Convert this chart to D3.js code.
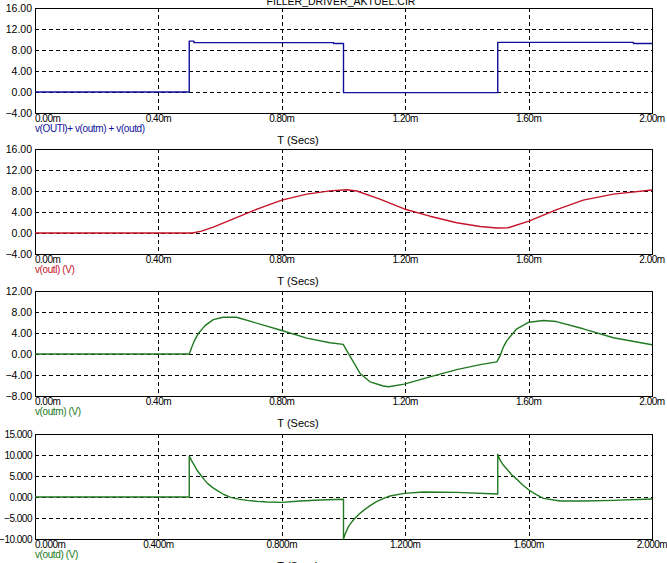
<!DOCTYPE html>
<html>
<head>
<meta charset="utf-8">
<script src="https://cdn.jsdelivr.net/npm/d3@7"></script>
<style>
  html, body { margin: 0; padding: 0; background: #ffffff; }
  svg { display: block; }
  text { font-family: "Liberation Sans", Arial, sans-serif; }
</style>
</head>
<body>
<div id="chart"></div>
<script>
// ---------- data ----------
const chartTitle = "FILLER_DRIVER_AKTUEL.CIR";
const xAxisTitle = "T (Secs)";
const timeTicks = [0, 0.4, 0.8, 1.2, 1.6, 2.0];

// Panel 1: v(OUTl)+ v(outm) + v(outd)
const tSum = [0, 0.5, 0.5, 0.515, 0.515, 0.968, 0.968, 1.0, 1.0, 1.5, 1.5, 1.94, 1.94, 2.0];
const vSum = [0, 0, 9.7, 9.7, 9.4, 9.4, 9.25, 9.25, -0.12, -0.12, 9.45, 9.45, 9.25, 9.25];
const ticksSum = [-4, 0, 4, 8, 12, 16];

// Panel 2: v(outl)
const tOutl = [0, 0.51, 0.54, 0.578, 0.643, 0.708, 0.80, 0.881, 0.956, 1.01, 1.043, 1.118, 1.197, 1.28, 1.367, 1.443, 1.497, 1.534, 1.601, 1.691, 1.777, 1.875, 2.0];
const vOutl = [0, 0, 0.35, 1.13, 2.7, 4.27, 6.27, 7.4, 8.03, 8.25, 8.0, 6.46, 4.58, 3.2, 1.95, 1.25, 0.94, 1.0, 2.26, 4.45, 6.27, 7.4, 8.2];
const ticksOutl = [-4, 0, 4, 8, 12, 16];

// Panel 3: v(outm)
const tOutm = [0, 0.5, 0.504, 0.508, 0.518, 0.529, 0.551, 0.578, 0.610, 0.653, 0.708, 0.80, 0.881, 0.956, 0.999, 1.010, 1.032, 1.054, 1.086, 1.129, 1.146, 1.197, 1.28, 1.367, 1.443, 1.497, 1.508, 1.518, 1.530, 1.562, 1.601, 1.648, 1.69, 1.777, 1.875, 2.0];
const vOutm = [0, 0, 0.6, 1.3, 2.7, 3.85, 5.4, 6.56, 7.0, 7.0, 6.06, 4.48, 3.03, 2.14, 1.83, 0.69, -1.5, -3.72, -5.3, -6.1, -6.25, -5.74, -4.35, -2.97, -2.02, -1.5, -0.25, 1.3, 2.6, 4.8, 6.06, 6.37, 6.18, 4.8, 3.1, 1.77];
const ticksOutm = [-8, -4, 0, 4, 8, 12];

// Panel 4: v(outd)
const tOutd = [0, 0.5, 0.5, 0.508, 0.516, 0.526, 0.537, 0.548, 0.559, 0.575, 0.591, 0.612, 0.634, 0.66, 0.688, 0.72, 0.753, 0.80, 0.859, 0.924, 1.0, 1.0, 1.006, 1.016, 1.026, 1.037, 1.05, 1.064, 1.085, 1.107, 1.13, 1.151, 1.197, 1.258, 1.367, 1.5, 1.5, 1.508, 1.518, 1.530, 1.545, 1.562, 1.58, 1.601, 1.625, 1.648, 1.702, 1.777, 1.875, 2.0];
const vOutd = [0, 0, 9.76, 8.6, 7.6, 6.3, 5.24, 4.2, 3.25, 2.3, 1.5, 0.6, -0.08, -0.5, -0.8, -1.05, -1.2, -1.27, -0.95, -0.7, -0.55, -10, -8.7, -7.06, -6.0, -5.08, -4.1, -3.25, -2.1, -1.1, -0.35, 0.24, 0.87, 1.19, 1.1, 0.71, 10.2, 8.7, 7.6, 6.6, 5.3, 4.2, 2.9, 1.67, 0.55, -0.32, -0.95, -0.95, -0.8, -0.48];
const ticksOutd = [-10, -5, 0, 5, 10, 15];

const legendLabels = ["v(OUTl)+ v(outm) + v(outd)", "v(outl) (V)", "v(outm) (V)", "v(outd) (V)"];
const seriesColors = ["#10109c", "#c41428", "#217a21", "#217a21"];
const yDecimals = [2, 2, 2, 3];
const xDecimals = [2, 2, 2, 3];

// ---------- layout ----------
const W = 667, H = 563;
const plotLeft = 35, plotRight = 652;
const panelTops = [8, 149, 291, 434];
const panelH = 105;

const svg = d3.select("#chart").append("svg")
  .attr("width", W).attr("height", H);

const x = d3.scaleLinear().domain([0, 2]).range([plotLeft, plotRight]);

const panels = [
  { t: tSum, v: vSum, ticks: ticksSum },
  { t: tOutl, v: vOutl, ticks: ticksOutl },
  { t: tOutm, v: vOutm, ticks: ticksOutm },
  { t: tOutd, v: vOutd, ticks: ticksOutd }
];

// title (partially cut at top, as in the reference)
svg.append("text")
  .attr("x", 341).attr("y", 5)
  .attr("text-anchor", "middle")
  .attr("font-size", 10.5)
  .attr("fill", "#000")
  .text(chartTitle);

panels.forEach((p, i) => {
  const top = panelTops[i];
  const bottom = top + panelH;
  const y = d3.scaleLinear().domain([p.ticks[0], p.ticks[p.ticks.length - 1]]).range([bottom, top]);
  const g = svg.append("g");

  // horizontal dashed grid
  g.selectAll("line.hg").data(p.ticks.slice(1, -1)).enter().append("line")
    .attr("x1", plotLeft).attr("x2", plotRight)
    .attr("y1", d => Math.round(y(d)) + 0.5).attr("y2", d => Math.round(y(d)) + 0.5)
    .attr("stroke", "#000").attr("stroke-width", 1).attr("stroke-dasharray", "4,3");

  // vertical dashed grid
  g.selectAll("line.vg").data(timeTicks.slice(1, -1)).enter().append("line")
    .attr("x1", d => Math.round(x(d)) + 0.5).attr("x2", d => Math.round(x(d)) + 0.5)
    .attr("y1", top).attr("y2", bottom)
    .attr("stroke", "#000").attr("stroke-width", 1).attr("stroke-dasharray", "4,3");

  // frame
  g.append("rect")
    .attr("x", plotLeft + 0.5).attr("y", top + 0.5)
    .attr("width", plotRight - plotLeft).attr("height", panelH)
    .attr("fill", "none").attr("stroke", "#000").attr("stroke-width", 1);

  // series line
  const pts = p.t.map((t, k) => [t, p.v[k]]);
  const line = d3.line().x(d => x(d[0])).y(d => y(d[1]));
  g.append("path")
    .attr("d", line(pts))
    .attr("fill", "none")
    .attr("stroke", seriesColors[i])
    .attr("stroke-width", 1.4)
    .attr("stroke-linejoin", "round");

  // y tick labels
  const yfmt = d3.format("." + yDecimals[i] + "f");
  g.selectAll("text.yl").data(p.ticks).enter().append("text")
    .attr("x", 32).attr("y", d => y(d))
    .attr("dy", "0.35em")
    .attr("text-anchor", "end")
    .attr("font-size", i === 3 ? 10 : 10.5)
    .attr("letter-spacing", i === 3 ? "-0.5px" : "0px")
    .attr("fill", "#000")
    .text(d => yfmt(d).replace("-", "\u2212"));

  // x tick labels
  g.selectAll("text.xl").data(timeTicks).enter().append("text")
    .attr("x", (d, k) => k === 0 ? plotLeft : x(d))
    .attr("y", bottom + 9)
    .attr("text-anchor", (d, k) => k === 0 ? "start" : "middle")
    .attr("font-size", 10)
    .attr("letter-spacing", "-0.5px")
    .attr("fill", "#000")
    .text(d => d.toFixed(xDecimals[i]) + "m");

  // legend
  g.append("text")
    .attr("x", plotLeft).attr("y", bottom + 18.5)
    .attr("font-size", 10)
    .attr("letter-spacing", "-0.4px")
    .attr("fill", seriesColors[i])
    .text(legendLabels[i]);

  // x axis title
  g.append("text")
    .attr("x", 298).attr("y", bottom + 30.5)
    .attr("text-anchor", "middle")
    .attr("font-size", 11)
    .attr("fill", "#000")
    .text(xAxisTitle);
});
</script>
</body>
</html>
